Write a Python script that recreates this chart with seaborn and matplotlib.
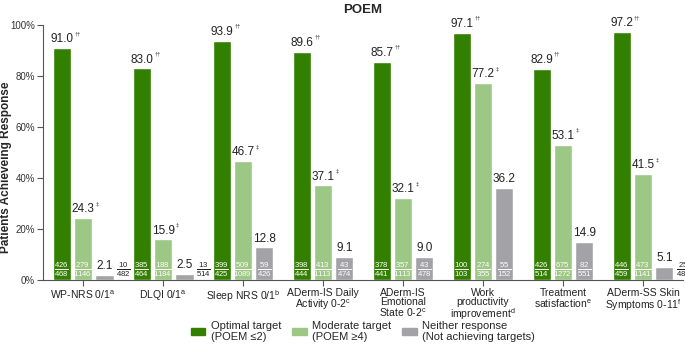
import numpy as np
import pandas as pd
import matplotlib
matplotlib.use("Agg")
import matplotlib.pyplot as plt
import matplotlib.patches as mpatches
import seaborn as sns

# ---- data ----
categories = [
    "WP-NRS 0/1$^{\\mathregular{a}}$",
    "DLQI 0/1$^{\\mathregular{a}}$",
    "Sleep NRS 0/1$^{\\mathregular{b}}$",
    "ADerm-IS Daily\nActivity 0-2$^{\\mathregular{c}}$",
    "ADerm-IS\nEmotional\nState 0-2$^{\\mathregular{c}}$",
    "Work\nproductivity\nimprovement$^{\\mathregular{d}}$",
    "Treatment\nsatisfaction$^{\\mathregular{e}}$",
    "ADerm-SS Skin\nSymptoms 0-11$^{\\mathregular{f}}$",
]
series = ["Optimal target\n(POEM ≤2)", "Moderate target\n(POEM ≥4)", "Neither response\n(Not achieving targets)"]
optimal = [91.0, 83.0, 93.9, 89.6, 85.7, 97.1, 82.9, 97.2]
moderate = [24.3, 15.9, 46.7, 37.1, 32.1, 77.2, 53.1, 41.5]
neither = [2.1, 2.5, 12.8, 9.1, 9.0, 36.2, 14.9, 5.1]
optimal_n = [(426, 468), (385, 464), (399, 425), (398, 444), (378, 441), (100, 103), (426, 514), (446, 459)]
moderate_n = [(279, 1146), (188, 1184), (509, 1089), (413, 1113), (357, 1113), (274, 355), (675, 1272), (473, 1141)]
neither_n = [(10, 482), (13, 514), (59, 426), (43, 474), (43, 478), (55, 152), (82, 551), (25, 486)]
marks = ["††", "‡", ""]

colors = ["#338000", "#9cc784", "#a3a3a7"]

df = pd.DataFrame({
    "cat": categories * 3,
    "series": [s for s in series for _ in categories],
    "value": optimal + moderate + neither,
})
counts = [optimal_n, moderate_n, neither_n]

sns.set_style("ticks")
plt.rcParams["font.family"] = ["Liberation Sans", "DejaVu Sans"]
plt.rcParams["mathtext.fontset"] = "custom"
plt.rcParams["mathtext.rm"] = "Liberation Sans"
plt.rcParams["mathtext.it"] = "Liberation Sans"

fig = plt.figure(figsize=(6.85, 3.49), dpi=100)
ax = fig.add_axes([0.063, 0.198, 0.934, 0.730])

sns.barplot(data=df, x="cat", y="value", hue="series", palette=colors,
            width=0.8, gap=0.15, saturation=1, legend=False, ax=ax)

for j, cont in enumerate(ax.containers):
    for i, bar in enumerate(cont):
        xc = bar.get_x() + bar.get_width() / 2
        h = bar.get_height()
        ax.annotate(f"{h:.1f}", (xc, h), xytext=(0, 2), textcoords="offset points",
                    ha="center", va="bottom", fontsize=8.5, color="#222222")
        if marks[j]:
            ax.annotate(marks[j], (xc, h), xytext=(9, 8.5), textcoords="offset points",
                        ha="left", va="bottom", fontsize=4.2, color="#333333")
        num, den = counts[j][i]
        frac = "$\\frac{%d}{%d}$" % (num, den)
        if h < 8:
            ax.annotate(frac, (xc, 4.2), xytext=(13.5, 0), textcoords="offset points",
                        ha="center", va="center", fontsize=8, color="#222222")
        else:
            ax.text(xc, 4.2, frac, ha="center", va="center", fontsize=8, color="white")

ax.set_ylim(0, 100)
ax.set_xlim(-0.5, 7.5)
ax.set_yticks(np.arange(0, 101, 20))
ax.set_yticklabels([f"{v}%" for v in range(0, 101, 20)], fontsize=7)
ax.tick_params(axis="x", labelsize=7.5, colors="#555555", length=4, pad=2)
ax.tick_params(axis="y", length=4, colors="#555555", pad=2)
for lab in ax.get_yticklabels():
    lab.set_color("#333333")
for lab in ax.get_xticklabels():
    lab.set_color("#222222")
    lab.set_linespacing(0.9)
ax.set_xlabel("")
ax.set_ylabel("Patients Achieveing Response", fontsize=8.5, fontweight="bold")
ax.yaxis.set_label_coords(-0.048, 0.443)
ax.set_title("POEM", fontsize=9.5, fontweight="bold", pad=9)
sns.despine(ax=ax)
ax.spines["left"].set_color("#555555")
ax.spines["bottom"].set_color("#555555")

handles = [mpatches.Patch(color=c, label=s) for c, s in zip(colors, series)]
fig.legend(handles=handles, loc="lower center", bbox_to_anchor=(0.53, -0.01), ncol=3,
           frameon=False, fontsize=8, handlelength=1.3, handleheight=0.55,
           columnspacing=1.0, handletextpad=0.5, labelspacing=0.2)

fig.savefig("out.png", dpi=100)
